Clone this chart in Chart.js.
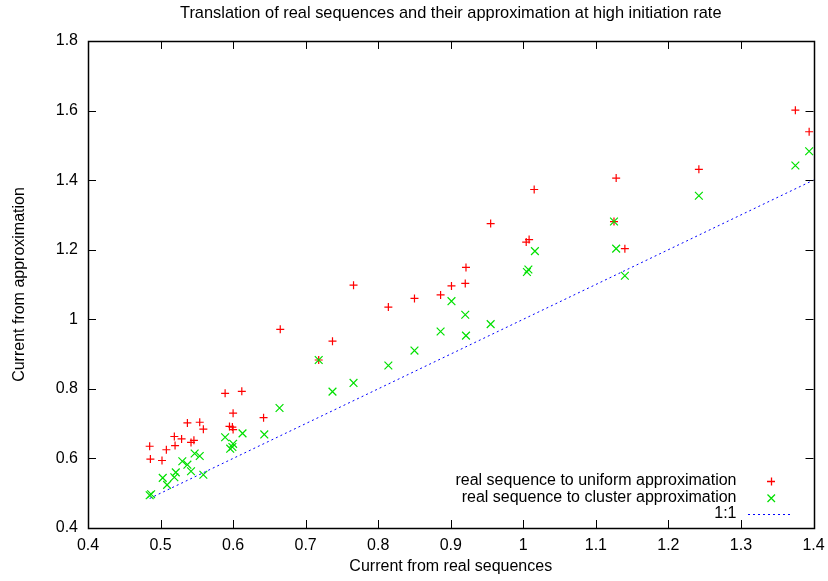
<!DOCTYPE html>
<html>
<head>
<meta charset="utf-8">
<script src="https://cdn.jsdelivr.net/npm/chart.js@4/dist/chart.umd.min.js"></script>
<style>
  html, body { margin: 0; padding: 0; background: #fff; }
  #wrap { width: 828px; height: 581px; }
</style>
</head>
<body>
<div id="wrap"><canvas id="chart"></canvas></div>
<script>
// Current from real sequences vs. current from each approximation
const uniformX = [0.485, 0.486, 0.502, 0.508, 0.519, 0.520, 0.529, 0.537, 0.542, 0.546, 0.554, 0.559, 0.589, 0.595, 0.599, 0.600, 0.600, 0.612, 0.642, 0.665, 0.718, 0.737, 0.766, 0.814, 0.850, 0.886, 0.901, 0.920, 0.921, 0.955, 1.004, 1.008, 1.015, 1.125, 1.128, 1.140, 1.242, 1.375, 1.394];
const uniformY = [0.635, 0.598, 0.594, 0.625, 0.663, 0.637, 0.656, 0.702, 0.646, 0.652, 0.704, 0.684, 0.787, 0.692, 0.690, 0.730, 0.683, 0.793, 0.717, 0.971, 0.883, 0.937, 1.098, 1.035, 1.060, 1.070, 1.096, 1.103, 1.149, 1.275, 1.222, 1.229, 1.373, 1.281, 1.406, 1.203, 1.431, 1.601, 1.539];

const clusterX = [0.485, 0.487, 0.503, 0.509, 0.519, 0.521, 0.530, 0.537, 0.542, 0.547, 0.554, 0.559, 0.589, 0.596, 0.599, 0.600, 0.613, 0.643, 0.664, 0.718, 0.737, 0.766, 0.814, 0.850, 0.886, 0.901, 0.920, 0.921, 0.955, 1.005, 1.007, 1.016, 1.125, 1.128, 1.140, 1.242, 1.375, 1.394];
const clusterY = [0.494, 0.497, 0.544, 0.524, 0.546, 0.560, 0.592, 0.582, 0.563, 0.614, 0.607, 0.553, 0.661, 0.628, 0.633, 0.642, 0.672, 0.669, 0.745, 0.883, 0.792, 0.817, 0.867, 0.910, 0.965, 1.052, 1.013, 0.953, 0.986, 1.136, 1.143, 1.196, 1.281, 1.203, 1.125, 1.355, 1.442, 1.483];

// 1:1 reference line
const identityX = [0.485, 1.4];

const seriesLabels = ['real sequence to uniform approximation', 'real sequence to cluster approximation', '1:1'];
const seriesColors = ['#ff0000', '#00e000', '#0000ff'];

const FONT = '"Liberation Sans", Arial, Helvetica, sans-serif';
const toPoints = (xs, ys) => xs.map((x, i) => ({ x: x, y: ys[i] }));
const fmt = v => String(Number(v.toFixed(1)));

// gnuplot-like frame: box border, inward ticks mirrored on all sides, key in lower right
const framePlugin = {
    id: 'frame',
    afterDatasetsDraw(chart) {
        const { ctx, chartArea: a, scales } = chart;
        const tick = 8;
        ctx.save();
        ctx.strokeStyle = '#000';
        ctx.lineWidth = 1;
        ctx.beginPath();
        scales.x.ticks.forEach(t => {
            const px = Math.round(scales.x.getPixelForValue(t.value)) + 0.5;
            ctx.moveTo(px, a.bottom); ctx.lineTo(px, a.bottom - tick);
            ctx.moveTo(px, a.top); ctx.lineTo(px, a.top + tick);
        });
        scales.y.ticks.forEach(t => {
            const py = Math.round(scales.y.getPixelForValue(t.value)) + 0.5;
            ctx.moveTo(a.left, py); ctx.lineTo(a.left + tick, py);
            ctx.moveTo(a.right, py); ctx.lineTo(a.right - tick, py);
        });
        ctx.stroke();
        ctx.lineWidth = 1.5;
        ctx.strokeRect(Math.round(a.left) + 0.5, Math.round(a.top) + 0.5, Math.round(a.right - a.left), Math.round(a.bottom - a.top));

        // key
        ctx.font = '16px ' + FONT;
        ctx.textAlign = 'right';
        ctx.textBaseline = 'middle';
        const textRight = a.right - 77;
        const sx = Math.round(a.right - 43);
        seriesLabels.forEach((label, i) => {
            const y = Math.round(a.bottom - 47 + i * 16.5);
            ctx.fillStyle = '#000';
            ctx.fillText(label, textRight, y);
            ctx.strokeStyle = seriesColors[i];
            ctx.lineWidth = 1.3;
            ctx.beginPath();
            if (i === 0) {
                ctx.moveTo(sx - 4, y + 0.5); ctx.lineTo(sx + 4, y + 0.5);
                ctx.moveTo(sx + 0.5, y - 3.5); ctx.lineTo(sx + 0.5, y + 4.5);
            } else if (i === 1) {
                ctx.moveTo(sx - 3.5, y - 3.5); ctx.lineTo(sx + 4, y + 4);
                ctx.moveTo(sx + 4, y - 3.5); ctx.lineTo(sx - 3.5, y + 4);
            } else {
                ctx.lineWidth = 1;
                ctx.setLineDash([2, 3]);
                ctx.moveTo(sx - 23, y + 0.5);
                ctx.lineTo(sx + 21, y + 0.5);
            }
            ctx.stroke();
            ctx.setLineDash([]);
        });
        ctx.restore();
    }
};

new Chart(document.getElementById('chart'), {
    type: 'scatter',
    data: {
        datasets: [
            {
                label: seriesLabels[0],
                data: toPoints(uniformX, uniformY),
                pointStyle: 'cross',
                pointRadius: 4,
                borderColor: seriesColors[0],
                backgroundColor: seriesColors[0],
                pointBorderWidth: 1.2,
                order: 2,
            },
            {
                label: seriesLabels[1],
                data: toPoints(clusterX, clusterY),
                pointStyle: 'crossRot',
                pointRadius: 5.5,
                borderColor: seriesColors[1],
                backgroundColor: seriesColors[1],
                pointBorderWidth: 1.2,
                order: 1,
            },
            {
                label: seriesLabels[2],
                data: toPoints(identityX, identityX),
                showLine: true,
                pointRadius: 0,
                borderColor: seriesColors[2],
                borderWidth: 1,
                borderDash: [2, 3],
                order: 0,
            },
        ],
    },
    options: {
        responsive: true,
        maintainAspectRatio: false,
        animation: false,
        events: [],
        clip: false,
        layout: { padding: { left: 0, right: 14.5, top: 0, bottom: 0 } },
        plugins: {
            legend: { display: false },
            tooltip: { enabled: false },
            title: {
                display: true,
                fullSize: false,
                text: 'Translation of real sequences and their approximation at high initiation rate',
                color: '#000',
                font: { family: FONT, size: 16.4, weight: 'normal' },
                padding: { top: 3.3, bottom: 18 },
            },
        },
        scales: {
            x: {
                type: 'linear',
                min: 0.4,
                max: 1.4,
                afterFit: s => {
                    s.height = 53;
                    s.paddingLeft = 0;
                    s.paddingRight = 0;
                },
                grid: { display: false, drawTicks: false },
                border: { display: false },
                ticks: {
                    stepSize: 0.1,
                    padding: 8,
                    color: '#000',
                    maxRotation: 0,
                    font: { family: FONT, size: 16 },
                    callback: fmt,
                },
                title: {
                    display: true,
                    text: 'Current from real sequences',
                    color: '#000',
                    font: { family: FONT, size: 16 },
                    padding: { top: 0, bottom: 4.5 },
                },
            },
            y: {
                type: 'linear',
                min: 0.4,
                max: 1.8,
                afterFit: s => { s.width = 88; },
                grid: { display: false, drawTicks: false },
                border: { display: false },
                ticks: {
                    stepSize: 0.2,
                    padding: 10,
                    color: '#000',
                    font: { family: FONT, size: 16 },
                    callback: fmt,
                },
                title: {
                    display: true,
                    text: 'Current from approximation',
                    color: '#000',
                    font: { family: FONT, size: 16 },
                    padding: { top: 9.5, bottom: 0 },
                },
            },
        },
    },
    plugins: [framePlugin],
});
</script>
</body>
</html>
